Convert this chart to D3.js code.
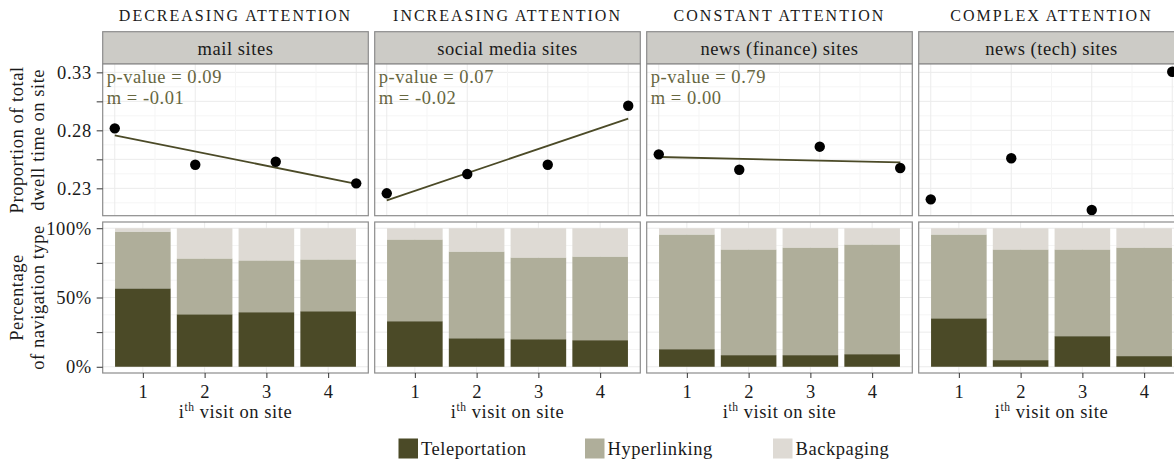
<!DOCTYPE html>
<html>
<head>
<meta charset="utf-8">
<script src="https://cdn.jsdelivr.net/npm/d3@7"></script>
<style>
  html, body { margin: 0; padding: 0; background: #fff; }
  svg { display: block; }
  svg text { font-family: "Liberation Serif", serif; letter-spacing: 0.55px; }
</style>
</head>
<body>
<div id="chart"></div>
<script>
// --- data ---
const visits = [1, 2, 3, 4];
const columnTitles = ["DECREASING ATTENTION", "INCREASING ATTENTION", "CONSTANT ATTENTION", "COMPLEX ATTENTION"];
const siteTypes = ["mail sites", "social media sites", "news (finance) sites", "news (tech) sites"];

const dwellMail = [0.2817, 0.2503, 0.2529, 0.2343];
const dwellSocial = [0.2257, 0.2423, 0.2503, 0.3012];
const dwellFinance = [0.2593, 0.2460, 0.2659, 0.2475];
const dwellTech = [0.2205, 0.2559, 0.2113, 0.3305];

const pValues = ["0.09", "0.07", "0.79", null];
const slopes = ["-0.01", "-0.02", "0.00", null];

const teleMail = [0.566, 0.379, 0.394, 0.401];
const hyperMail = [0.410, 0.403, 0.374, 0.374];
const backMail = [0.024, 0.218, 0.232, 0.225];

const teleSocial = [0.329, 0.206, 0.199, 0.192];
const hyperSocial = [0.590, 0.626, 0.590, 0.604];
const backSocial = [0.081, 0.168, 0.211, 0.204];

const teleFinance = [0.127, 0.084, 0.084, 0.091];
const hyperFinance = [0.828, 0.763, 0.777, 0.792];
const backFinance = [0.045, 0.153, 0.139, 0.117];

const teleTech = [0.350, 0.048, 0.221, 0.077];
const hyperTech = [0.605, 0.799, 0.626, 0.784];
const backTech = [0.045, 0.153, 0.153, 0.139];

const navTypes = ["Teleportation", "Hyperlinking", "Backpaging"];
const navColors = ["#4b4a27", "#afae9a", "#dedad4"];

const dwellTicks = [0.23, 0.255, 0.28, 0.305, 0.33];
const dwellLabels = ["0.23", "", "0.28", "", "0.33"];
const shareTicks = [0, 0.25, 0.5, 0.75, 1];
const shareLabels = ["0%", "", "50%", "", "100%"];

const columns = [
  { dwell: dwellMail, tele: teleMail, hyper: hyperMail, back: backMail },
  { dwell: dwellSocial, tele: teleSocial, hyper: hyperSocial, back: backSocial },
  { dwell: dwellFinance, tele: teleFinance, hyper: hyperFinance, back: backFinance },
  { dwell: dwellTech, tele: teleTech, hyper: hyperTech, back: backTech },
];

// --- layout ---
const W = 1174, H = 460;
const panelX0 = 102.7, pitch = 272, pw = 265.6;
const stripTop = 31.7, stripBot = 64;
const topY = 64, topH = 151.7;
const botY = 222, botH = 151;
const border = "#8c8c8c";
const gridMajor = "#ebebeb", gridMinor = "#f5f5f5";
const textCol = "#1a1a1a";
const annoCol = "#66663f";
const lineCol = "#4b4a27";
const fs = 18.5;

const xTop = d3.scaleLinear().domain([0.85, 4.15]).range([0, pw]);
const yTop = d3.scaleLinear().domain([0.2064, 0.3372]).range([topH, 0]);
const xBot = d3.scaleLinear().domain([0.35, 4.65]).range([0, pw]);
const yBot = d3.scaleLinear().domain([-0.045, 1.045]).range([botH, 0]);

const svg = d3.select("#chart").append("svg")
  .attr("width", W).attr("height", H)
  .attr("viewBox", `0 0 ${W} ${H}`);

function fit(xs, ys) {
  const mx = d3.mean(xs), my = d3.mean(ys);
  const b = d3.sum(xs, (x, i) => (x - mx) * (ys[i] - my)) / d3.sum(xs, x => (x - mx) ** 2);
  return x => my + b * (x - mx);
}

function styleAxis(g) {
  g.select(".domain").remove();
  g.selectAll(".tick line").attr("stroke", "#333").attr("stroke-width", 1);
  g.selectAll(".tick text").attr("fill", textCol).attr("font-size", fs)
    .attr("font-family", null);
}

columns.forEach((col, c) => {
  const x0 = panelX0 + c * pitch;
  const g = svg.append("g").attr("transform", `translate(${x0},0)`);

  // column title
  g.append("text")
    .attr("x", pw / 2).attr("y", 21)
    .attr("text-anchor", "middle")
    .attr("font-size", 16).style("letter-spacing", "2px")
    .attr("fill", textCol)
    .text(columnTitles[c]);

  // strip
  g.append("rect")
    .attr("x", 0).attr("y", stripTop).attr("width", pw).attr("height", stripBot - stripTop)
    .attr("fill", "#cccbc6").attr("stroke", border).attr("stroke-width", 1.2);
  g.append("text")
    .attr("x", pw / 2).attr("y", 55)
    .attr("text-anchor", "middle").attr("font-size", fs).attr("fill", textCol)
    .text(siteTypes[c]);

  // ---- top panel: dwell proportion ----
  const tp = g.append("g").attr("transform", `translate(0,${topY})`);
  tp.append("rect").attr("width", pw).attr("height", topH).attr("fill", "#fff");
  const minorY = d3.range(0.2175, 0.3372, 0.025);
  tp.selectAll(".hmin").data(minorY).join("line")
    .attr("x1", 0).attr("x2", pw).attr("y1", d => yTop(d)).attr("y2", d => yTop(d))
    .attr("stroke", gridMinor);
  tp.selectAll(".hmaj").data(dwellTicks).join("line")
    .attr("x1", 0).attr("x2", pw).attr("y1", d => yTop(d)).attr("y2", d => yTop(d))
    .attr("stroke", gridMajor);
  tp.selectAll(".vmin").data([1.5, 2.5, 3.5]).join("line")
    .attr("y1", 0).attr("y2", topH).attr("x1", d => xTop(d)).attr("x2", d => xTop(d))
    .attr("stroke", gridMinor);
  tp.selectAll(".vmaj").data(visits).join("line")
    .attr("y1", 0).attr("y2", topH).attr("x1", d => xTop(d)).attr("x2", d => xTop(d))
    .attr("stroke", gridMajor);

  if (pValues[c] !== null) {
    const f = fit(visits, col.dwell);
    tp.append("line")
      .attr("x1", xTop(1)).attr("y1", yTop(f(1)))
      .attr("x2", xTop(4)).attr("y2", yTop(f(4)))
      .attr("stroke", lineCol).attr("stroke-width", 1.8);
    tp.append("text").attr("x", 4).attr("y", 19)
      .attr("font-size", fs).attr("fill", annoCol)
      .text(`p-value = ${pValues[c]}`);
    tp.append("text").attr("x", 4).attr("y", 40)
      .attr("font-size", fs).attr("fill", annoCol)
      .text(`m = ${slopes[c]}`);
  }

  tp.selectAll("circle").data(col.dwell).join("circle")
    .attr("cx", (d, i) => xTop(visits[i])).attr("cy", d => yTop(d))
    .attr("r", 5.2).attr("fill", "#000");

  tp.append("rect").attr("width", pw).attr("height", topH)
    .attr("fill", "none").attr("stroke", border).attr("stroke-width", 1.2);

  // ---- bottom panel: navigation shares ----
  const bp = g.append("g").attr("transform", `translate(0,${botY})`);
  bp.append("rect").attr("width", pw).attr("height", botH).attr("fill", "#fff");
  bp.selectAll(".hmin").data([0.125, 0.375, 0.625, 0.875]).join("line")
    .attr("x1", 0).attr("x2", pw).attr("y1", d => yBot(d)).attr("y2", d => yBot(d))
    .attr("stroke", gridMinor);
  bp.selectAll(".hmaj").data(shareTicks).join("line")
    .attr("x1", 0).attr("x2", pw).attr("y1", d => yBot(d)).attr("y2", d => yBot(d))
    .attr("stroke", gridMajor);
  bp.selectAll(".vmaj").data(visits).join("line")
    .attr("y1", 0).attr("y2", botH).attr("x1", d => xBot(d)).attr("x2", d => xBot(d))
    .attr("stroke", gridMajor);

  const rows = visits.map((v, i) => ({ visit: v, Teleportation: col.tele[i], Hyperlinking: col.hyper[i], Backpaging: col.back[i] }));
  const stacked = d3.stack().keys(navTypes)(rows);
  const bw = xBot(0.9) - xBot(0);
  bp.selectAll(".layer").data(stacked).join("g")
    .attr("fill", (d, i) => navColors[i])
    .selectAll("rect").data(d => d).join("rect")
    .attr("x", d => xBot(d.data.visit) - bw / 2)
    .attr("width", bw)
    .attr("y", d => yBot(d[1]))
    .attr("height", d => yBot(d[0]) - yBot(d[1]));

  bp.append("rect").attr("width", pw).attr("height", botH)
    .attr("fill", "none").attr("stroke", border).attr("stroke-width", 1.2);

  // x axis
  bp.append("g").attr("transform", `translate(0,${botH})`)
    .call(d3.axisBottom(xBot).tickValues(visits).tickSize(5).tickPadding(7).tickFormat(d3.format("d")))
    .call(styleAxis);

  const xt = g.append("text").attr("x", pw / 2).attr("y", 418)
    .attr("text-anchor", "middle").attr("font-size", fs).attr("fill", textCol);
  xt.append("tspan").text("i");
  xt.append("tspan").attr("font-size", 11.5).attr("dy", -7).text("th");
  xt.append("tspan").attr("dy", 7).text(" visit on site");

  // y axes only in the first column
  if (c === 0) {
    tp.append("g")
      .call(d3.axisLeft(yTop).tickValues(dwellTicks).tickSize(6).tickPadding(5)
        .tickFormat((d, i) => dwellLabels[i]))
      .call(styleAxis);
    bp.append("g")
      .call(d3.axisLeft(yBot).tickValues(shareTicks).tickSize(6).tickPadding(5)
        .tickFormat((d, i) => shareLabels[i]))
      .call(styleAxis);
  }
});

// y titles
function yTitle(lines, cy) {
  const t = svg.append("text")
    .attr("transform", `translate(23,${cy}) rotate(-90)`)
    .attr("text-anchor", "middle").attr("font-size", fs).attr("fill", textCol);
  lines.forEach((s, i) => t.append("tspan").attr("x", 0).attr("dy", i === 0 ? 0 : 21).text(s));
}
yTitle(["Proportion of total", "dwell time on site"], topY + topH / 2);
yTitle(["Percentage", "of navigation type"], botY + botH / 2);

// legend
const legendX = [398.5, 585, 773];
const lg = svg.append("g");
navTypes.forEach((name, i) => {
  lg.append("rect").attr("x", legendX[i]).attr("y", 438.5).attr("width", 19.5).attr("height", 20)
    .attr("fill", navColors[i]);
  lg.append("text").attr("x", legendX[i] + 22.5).attr("y", 455)
    .attr("font-size", fs).attr("fill", textCol).text(name);
});
</script>
</body>
</html>
